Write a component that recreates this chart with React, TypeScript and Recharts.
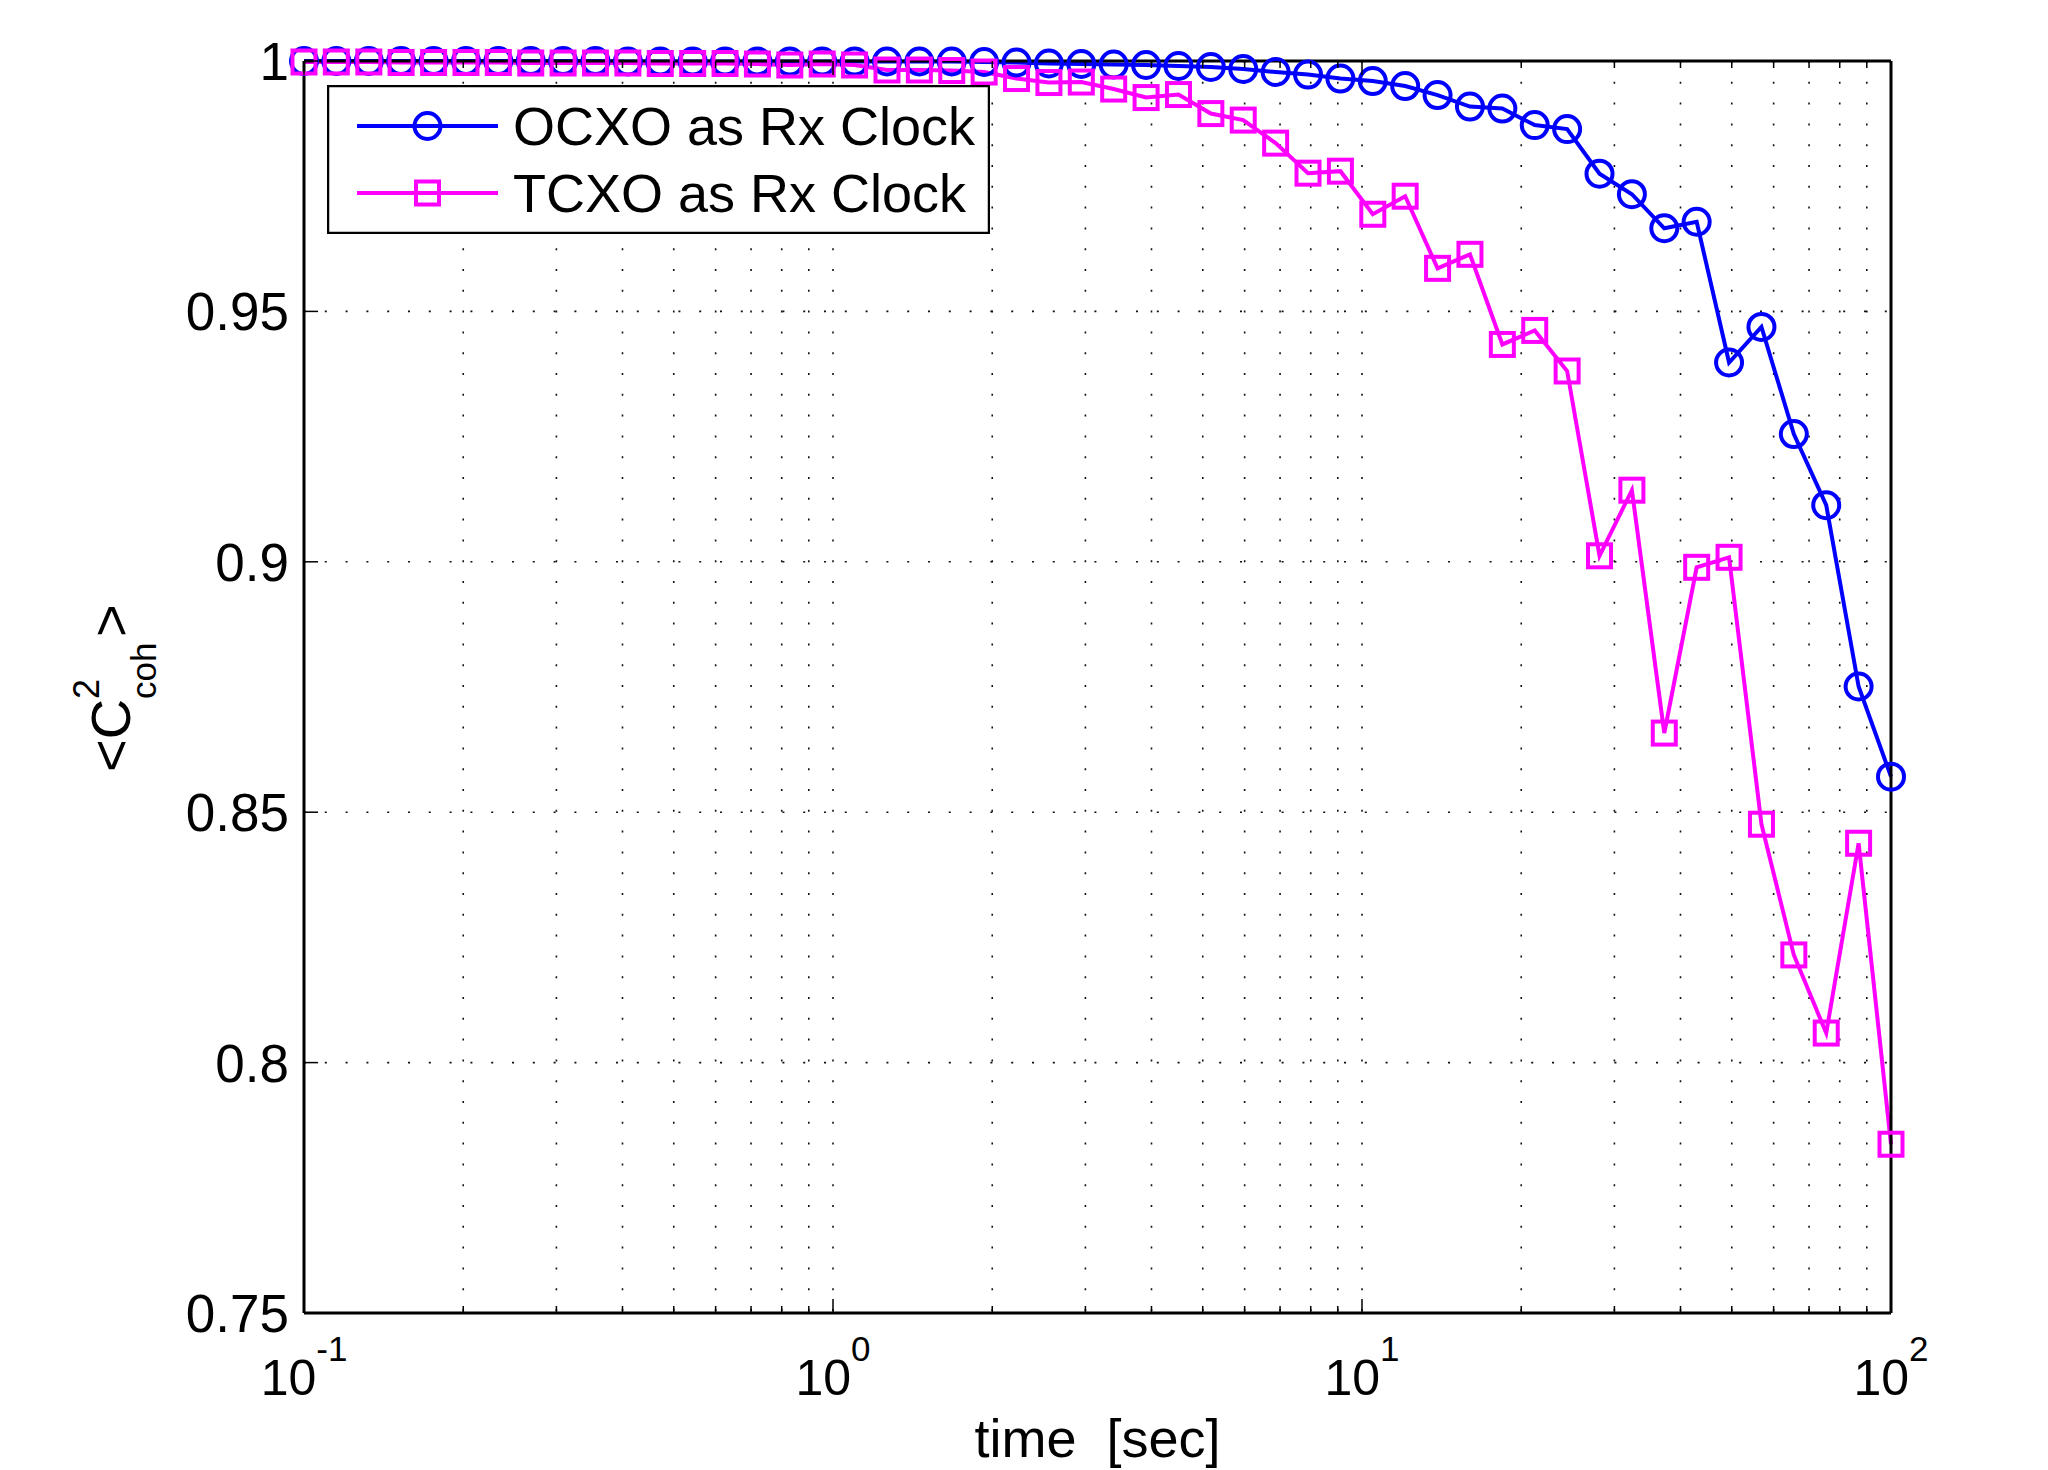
import React from "react";
import { CartesianGrid, Line, LineChart, XAxis, YAxis } from "recharts";

// time axis, 50 log-spaced samples (sec)
const times = [
  0.1, 0.1151, 0.1326, 0.1526, 0.1758, 0.2024, 0.233, 0.2683, 0.3089, 0.3556,
  0.4095, 0.4715, 0.5429, 0.6251, 0.7197, 0.8286, 0.9541, 1.0985, 1.2649, 1.4563,
  1.6768, 1.9307, 2.223, 2.5595, 2.9471, 3.3932, 3.9069, 4.4984, 5.1795, 5.9636,
  6.8665, 7.906, 9.103, 10.481, 12.068, 13.895, 15.999, 18.421, 21.21, 24.421,
  28.118, 32.375, 37.276, 42.919, 49.417, 56.899, 65.513, 75.431, 86.851, 100,
];

const ocxo = [
  1.0, 1.0, 1.0, 1.0, 1.0, 1.0, 1.0, 1.0, 1.0, 1.0,
  0.9999, 0.9999, 0.9999, 0.9999, 0.9999, 0.9999, 0.9999, 0.9999, 0.9999, 0.9999,
  0.9999, 0.9998, 0.9997, 0.9995, 0.9994, 0.9993, 0.9992, 0.999, 0.9988, 0.9984,
  0.9978, 0.9973, 0.9965, 0.996, 0.995, 0.9932, 0.9909, 0.9905, 0.9872, 0.9864,
  0.9775, 0.9734, 0.9666, 0.9679, 0.9398, 0.9469, 0.9255, 0.9113, 0.8751, 0.8571,
];

const tcxo = [
  0.9998, 0.9998, 0.9998, 0.9997, 0.9997, 0.9997, 0.9997, 0.9996, 0.9996, 0.9996,
  0.9996, 0.9995, 0.9995, 0.9995, 0.9994, 0.9992, 0.9994, 0.9992, 0.9982, 0.9982,
  0.9981, 0.9978, 0.9965, 0.9957, 0.9958, 0.9944, 0.9927, 0.9933, 0.9895, 0.9882,
  0.9836, 0.9776, 0.978, 0.9694, 0.973, 0.9586, 0.9614, 0.9434, 0.9462, 0.9381,
  0.9012, 0.9143, 0.8658, 0.8989, 0.9009, 0.8476, 0.8215, 0.8059, 0.8438, 0.7837,
];

const seriesNames = ["OCXO as Rx Clock", "TCXO as Rx Clock"];
const xMajorTicks = [0.1, 1, 10, 100];
const xExponents = ["-1", "0", "1", "2"];
const xMinorTicks = [
  0.2, 0.3, 0.4, 0.5, 0.6, 0.7, 0.8, 0.9,
  2, 3, 4, 5, 6, 7, 8, 9,
  20, 30, 40, 50, 60, 70, 80, 90,
];
const yTicks = [0.75, 0.8, 0.85, 0.9, 0.95, 1];

const BLUE = "#0000FF";
const MAGENTA = "#FF00FF";
const FONT = "'Liberation Sans', Arial, Helvetica, sans-serif";
const LW = 4;

const data = times.map((t, i) => ({ t, ocxo: ocxo[i], tcxo: tcxo[i] }));
const xTicks = [...xMajorTicks, ...xMinorTicks].sort((a, b) => a - b);

const isMajor = (v: number) => xMajorTicks.some((m) => Math.abs(m - v) < 1e-9);

// bottom axis: inward tick + 10^n label
const BottomTick = (props: any) => {
  const { x, y, payload } = props;
  const major = isMajor(payload.value);
  const idx = xMajorTicks.findIndex((m) => Math.abs(m - payload.value) < 1e-9);
  return (
    <g>
      <line x1={x} x2={x} y1={y} y2={y - (major ? 14 : 7)} stroke="#000" strokeWidth={1.5} />
      {major && (
        <text x={x} y={y + 82} textAnchor="middle" fontFamily={FONT} fontSize={50} fill="#000">
          10
          <tspan fontSize={35} dy={-34}>{xExponents[idx]}</tspan>
        </text>
      )}
    </g>
  );
};

const TopTick = (props: any) => {
  const { x, y, payload } = props;
  const major = isMajor(payload.value);
  return <line x1={x} x2={x} y1={y} y2={y + (major ? 14 : 7)} stroke="#000" strokeWidth={1.5} />;
};

const LeftTick = (props: any) => {
  const { x, y, payload } = props;
  return (
    <g>
      <line x1={x} x2={x + 14} y1={y} y2={y} stroke="#000" strokeWidth={1.5} />
      <text x={x - 15} y={y} dy="0.36em" textAnchor="end" fontFamily={FONT} fontSize={53} fill="#000">
        {String(payload.value)}
      </text>
    </g>
  );
};

const RightTick = (props: any) => {
  const { x, y } = props;
  return <line x1={x} x2={x - 14} y1={y} y2={y} stroke="#000" strokeWidth={1.5} />;
};

const SquareDot = (props: any) => {
  const { cx, cy, index } = props;
  if (cx == null || cy == null) return <g key={`sq-${index}`} />;
  return (
    <rect
      key={`sq-${index}`}
      x={cx - 11.5}
      y={cy - 11.5}
      width={23}
      height={23}
      fill="none"
      stroke={MAGENTA}
      strokeWidth={LW}
    />
  );
};

const XTitle = (props: any) => {
  const { viewBox } = props;
  return (
    <text
      x={viewBox.x + viewBox.width / 2}
      y={viewBox.y + 144}
      textAnchor="middle"
      fontFamily={FONT}
      fontSize={54}
      fill="#000"
      style={{ whiteSpace: "pre" }}
    >
      time  [sec]
    </text>
  );
};

const YTitle = (props: any) => {
  const { viewBox } = props;
  const cy = viewBox.y + viewBox.height / 2 + 3;
  const bx = viewBox.x + viewBox.width - 174;
  return (
    <g transform={`translate(${bx}, ${cy + 82}) rotate(-90)`} fontFamily={FONT} fill="#000">
      <text x={0} y={0} fontSize={56}>{"<C"}</text>
      <text x={73} y={-31} fontSize={36}>2</text>
      <text x={73} y={26} fontSize={35}>coh</text>
      <text x={135} y={0} fontSize={56}>{">"}</text>
    </g>
  );
};

const LegendBox = () => {
  const colors = [BLUE, MAGENTA];
  return (
    <svg
      width={663}
      height={149}
      style={{ position: "absolute", left: 327, top: 85 }}
    >
      <rect x={1} y={1} width={661} height={147} fill="#fff" stroke="#000" strokeWidth={2.5} />
      {seriesNames.map((name, i) => {
        const cy = 41 + i * 67;
        return (
          <g key={name}>
            <line x1={30} x2={171} y1={cy} y2={cy} stroke={colors[i]} strokeWidth={LW} />
            {i === 0 ? (
              <circle cx={100.5} cy={cy} r={13} fill="none" stroke={BLUE} strokeWidth={LW} />
            ) : (
              <rect x={89} y={cy - 11.5} width={23} height={23} fill="none" stroke={MAGENTA} strokeWidth={LW} />
            )}
            <text x={186} y={cy + 19} fontFamily={FONT} fontSize={54} fill="#000">
              {name}
            </text>
          </g>
        );
      })}
    </svg>
  );
};

export default function App() {
  return (
    <div style={{ position: "absolute", left: 0, top: 0, width: 2048, height: 1470, background: "#fff" }}>
      <LineChart
        width={2048}
        height={1470}
        data={data}
        margin={{ top: 60, right: 156, bottom: 57, left: 204 }}
      >
        <CartesianGrid
          stroke="#111"
          strokeWidth={1.6}
          strokeDasharray="2 18.8"
          horizontalValues={yTicks}
          verticalValues={xTicks}
        />
        <XAxis
          dataKey="t"
          type="number"
          scale="log"
          domain={[0.1, 100]}
          ticks={xTicks}
          interval={0}
          height={100}
          tickSize={0}
          tickMargin={0}
          tickLine={false}
          axisLine={{ stroke: "#000", strokeWidth: 3 }}
          tick={(p: any) => <BottomTick key={`b-${p.index}`} {...p} />}
          label={{ content: (p: any) => <XTitle {...p} /> }}
        />
        <XAxis
          xAxisId="top"
          orientation="top"
          dataKey="t"
          type="number"
          scale="log"
          domain={[0.1, 100]}
          ticks={xTicks}
          interval={0}
          height={1}
          tickSize={0}
          tickMargin={0}
          tickLine={false}
          axisLine={{ stroke: "#000", strokeWidth: 3 }}
          tick={(p: any) => <TopTick key={`t-${p.index}`} {...p} />}
        />
        <YAxis
          type="number"
          domain={[0.75, 1]}
          ticks={yTicks}
          interval={0}
          width={100}
          tickSize={0}
          tickMargin={0}
          tickLine={false}
          axisLine={{ stroke: "#000", strokeWidth: 3 }}
          tick={(p: any) => <LeftTick key={`l-${p.index}`} {...p} />}
          label={{ content: (p: any) => <YTitle {...p} /> }}
        />
        <YAxis
          yAxisId="right"
          orientation="right"
          type="number"
          domain={[0.75, 1]}
          ticks={yTicks}
          interval={0}
          width={1}
          tickSize={0}
          tickMargin={0}
          tickLine={false}
          axisLine={{ stroke: "#000", strokeWidth: 3 }}
          tick={(p: any) => <RightTick key={`r-${p.index}`} {...p} />}
        />
        <Line
          type="linear"
          dataKey="ocxo"
          name={seriesNames[0]}
          stroke={BLUE}
          strokeWidth={LW}
          dot={{ r: 13, stroke: BLUE, strokeWidth: LW, fill: "none" }}
          isAnimationActive={false}
        />
        <Line
          type="linear"
          dataKey="tcxo"
          name={seriesNames[1]}
          stroke={MAGENTA}
          strokeWidth={LW}
          dot={(p: any) => <SquareDot key={`sq-${p.index}`} {...p} />}
          isAnimationActive={false}
        />
      </LineChart>
      <LegendBox />
    </div>
  );
}
